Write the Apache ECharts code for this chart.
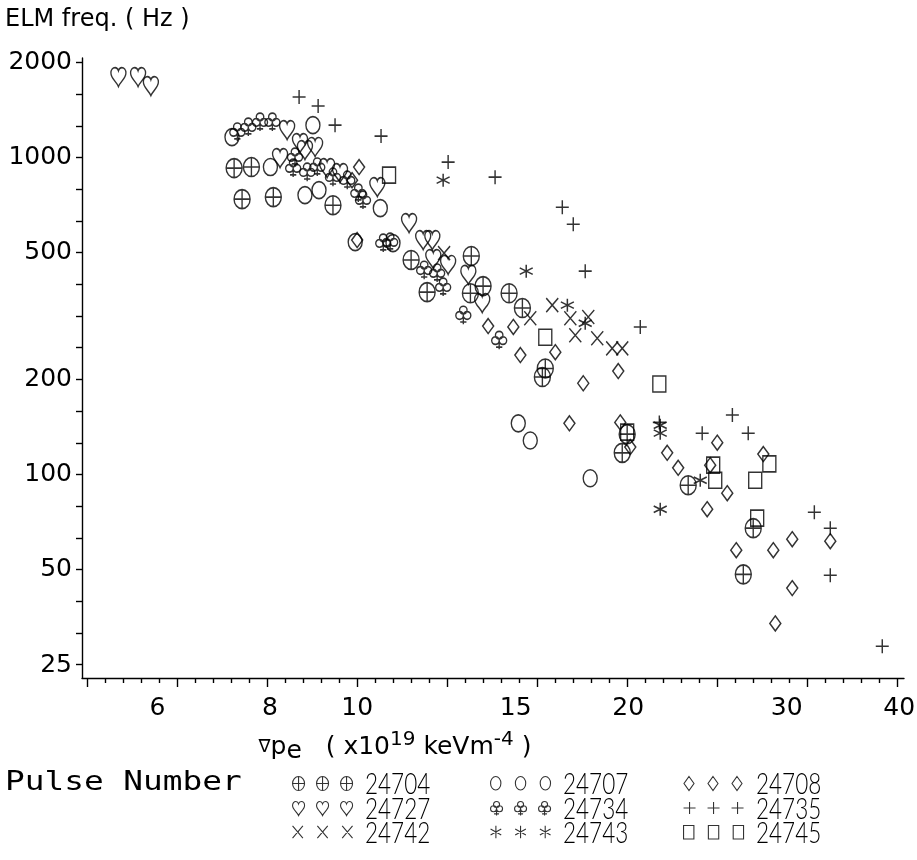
<!DOCTYPE html>
<html><head><meta charset="utf-8">
<script src="https://cdn.jsdelivr.net/npm/echarts@6/dist/echarts.min.js"></script>
<style>html,body{margin:0;padding:0;background:#fff}#c{width:917px;height:860px}</style>
</head><body><div id="c"></div>
<script>
// ---- data (x = grad pe in 1e19 keV m^-4, y = ELM frequency in Hz) ----
const pulseNames = ['24704','24707','24708','24727','24734','24735','24742','24743','24745'];
const s24704 = [[7.30,926],[7.63,933],[7.45,739],[8.07,750],[9.40,707],[11.48,475],[11.96,376],[13.39,489],[13.36,373],[13.80,393],[14.75,373],[15.26,335],[16.18,216],[16.06,203],[19.95,134],[19.70,117],[23.32,92.5],[27.54,67.7],[26.85,48.4]];
const s24707 = [[7.26,1160],[8.01,933],[8.93,1265],[8.75,761],[9.07,789],[10.61,692],[9.95,541],[10.96,537],[15.10,145],[15.57,128],[18.15,97.3]];
const s24708 = [[10.05,933],[9.87,848],[10.0,549],[13.98,294],[14.91,292],[15.18,238],[16.60,243],[17.83,194],[19.50,212],[17.21,145],[19.60,146],[20.11,122],[22.10,117],[22.73,105],[25.12,126],[24.67,107],[25.77,87.3],[24.48,77.7],[28.26,116],[26.37,57.7],[28.99,57.7],[30.43,62.5],[33.54,61.6],[30.43,43.8],[29.14,33.9]];
const s24727 = [[5.43,1794],[5.71,1794],[5.90,1680],[8.36,1220],[8.64,1110],[8.75,1055],[8.98,1079],[8.21,995],[9.26,926],[9.57,893],[10.53,806],[11.42,621],[11.84,549],[12.12,549],[12.15,478],[12.62,458],[13.29,426],[13.77,347]];
const s24734 = [[7.36,1203],[7.57,1247],[7.80,1293],[8.05,1293],[8.53,1003],[8.49,926],[8.80,899],[9.03,933],[9.40,867],[9.75,848],[10.03,772],[10.15,734],[10.69,537],[10.88,541],[11.87,441],[12.27,432],[12.46,390],[13.12,318],[14.38,265]];
const s24735 = [[8.62,1551],[9.05,1453],[9.45,1265],[10.63,1168],[12.62,967],[14.23,867],[16.90,697],[17.38,616],[17.92,438],[20.63,292],[21.66,146],[24.17,135],[26.11,154],[27.19,135],[32.20,76.0],[33.54,67.7],[33.54,48.1],[38.31,28.7]];
const s24742 = [[12.49,499],[15.57,311],[16.47,342],[17.25,311],[18.06,314],[17.47,275],[18.48,269],[19.20,250],[19.70,250]];
const s24743 = [[12.46,848],[15.41,438],[17.12,342],[17.92,300],[21.71,143],[21.71,135],[24.05,95.9],[21.71,77.7]];
const s24745 = [[10.85,880],[16.18,271],[21.66,193],[19.95,136],[24.86,107],[24.99,95.9],[28.70,108],[27.68,95.9],[27.82,72.8]];
const xTickLabels = [6, 8, 10, 15, 20, 30, 40];
const yTickLabels = [25, 50, 100, 200, 500, 1000, 2000];

// ---- marker shapes, drawn in a 12 x 14 box, shifted by o ----
const SH = {
  oplus: o => `M${o},7 A6,7 0 1 1 ${o+12},7 A6,7 0 1 1 ${o},7 Z M${o+6},0 L${o+6},14 M${o},7 L${o+12},7`,
  circle: o => `M${o+1},7 A5,6.5 0 1 1 ${o+11},7 A5,6.5 0 1 1 ${o+1},7 Z`,
  diamond: o => `M${o+6},0 L${o+11},7 L${o+6},14 L${o+1},7 Z`,
  heart: o => `M${o+6},14 C${o+4.5},10.5 ${o},8 ${o},4 C${o},1.6 ${o+1.5},0 ${o+3.3},0 C${o+4.7},0 ${o+5.6},1 ${o+6},2.3 C${o+6.4},1 ${o+7.3},0 ${o+8.7},0 C${o+10.5},0 ${o+12},1.6 ${o+12},4 C${o+12},8 ${o+7.5},10.5 ${o+6},14 Z`,
  club: o => `M${o+3},3 A3,3 0 1 1 ${o+9},3 A3,3 0 1 1 ${o+3},3 Z M${o},7.2 A3,3 0 1 1 ${o+6},7.2 A3,3 0 1 1 ${o},7.2 Z M${o+6},7.2 A3,3 0 1 1 ${o+12},7.2 A3,3 0 1 1 ${o+6},7.2 Z M${o+6},9 L${o+6},14 M${o+3.5},12.3 L${o+8.5},12.3`,
  plus: o => `M${o+6},1 L${o+6},13 M${o},7 L${o+12},7`,
  cross: o => `M${o+1},1 L${o+11},13 M${o+11},1 L${o+1},13`,
  star: o => `M${o+6},1 L${o+6},13 M${o+0.8},4 L${o+11.2},10 M${o+0.8},10 L${o+11.2},4`,
  square: o => `M${o+1},0.5 L${o+11},0.5 L${o+11},13.5 L${o+1},13.5 Z`
};
const seriesDefs = [
  {name: pulseNames[0], data: s24704, shape: 'oplus',   size: [16, 19]},
  {name: pulseNames[1], data: s24707, shape: 'circle',  size: [14, 17]},
  {name: pulseNames[2], data: s24708, shape: 'diamond', size: [11, 15]},
  {name: pulseNames[3], data: s24727, shape: 'heart',   size: [15, 19]},
  {name: pulseNames[4], data: s24734, shape: 'club',    size: [15, 18]},
  {name: pulseNames[5], data: s24735, shape: 'plus',    size: [13, 14]},
  {name: pulseNames[6], data: s24742, shape: 'cross',   size: [12, 14]},
  {name: pulseNames[7], data: s24743, shape: 'star',    size: [13, 13]},
  {name: pulseNames[8], data: s24745, shape: 'square',  size: [13, 16]}
];

const xMajorTicks = [], xMinorTicks = [], yTicks = [];
for (let k = 35; k <= 80; k++) { const v = Math.pow(10, k / 50); (k % 5 === 0 ? xMajorTicks : xMinorTicks).push(v); }
for (let k = 14; k <= 33; k++) yTicks.push(Math.pow(10, k / 10));

const X_MIN = 4.947, X_MAX = 40.5, Y_MIN = 22.8, Y_MAX = 2060;
const FONT = 'DejaVu Sans';
const blackLine = {color: '#000', width: 1.4};
const markStyle = {color: 'rgba(0,0,0,0)', borderColor: '#000', borderWidth: 1.5};

const series = seriesDefs.map(d => ({
  name: d.name, type: 'scatter', data: d.data,
  symbol: 'path://' + SH[d.shape](0), symbolSize: d.size,
  itemStyle: markStyle, emphasis: {disabled: true}, silent: true
}));

// legend: one legend box per pulse (three marks), number text beside it
const legendCols = [292, 490, 683], legendRows = [783, 808, 832];
const legends = [], legendTexts = [];
seriesDefs.forEach((d, i) => {
  const cx = legendCols[i % 3], cy = legendRows[Math.floor(i / 3)];
  legends.push({
    left: cx, top: cy - 7, padding: 0, itemWidth: 60, itemHeight: 14, selectedMode: false,
    itemStyle: {color: 'rgba(0,0,0,0)', borderColor: '#000', borderWidth: 1.1},
    formatter: () => '', textStyle: {fontSize: 1},
    data: [{name: d.name, icon: 'path://' + SH[d.shape](0) + ' ' + SH[d.shape](24) + ' ' + SH[d.shape](48)}]
  });
  legendTexts.push({
    type: 'text', x: cx + 73, y: cy + 1, scaleX: 0.75, silent: true,
    style: {text: d.name, fontFamily: 'Lato', fontWeight: 300, fontSize: 30, fill: '#000', verticalAlign: 'middle', align: 'left'}
  });
});

const chart = echarts.init(document.getElementById('c'), null, {renderer: 'canvas'});
chart.setOption({
  animation: false,
  backgroundColor: '#fff',
  title: {text: 'ELM freq. ( Hz )', left: 0, top: 3, textStyle: {fontFamily: FONT, fontSize: 24, fontWeight: 'normal', color: '#000'}},
  grid: {left: 82, right: 13, top: 58, bottom: 182, containLabel: false, outerBoundsMode: 'none'},
  xAxis: [{
    type: 'log', logBase: 10, min: X_MIN, max: X_MAX, position: 'bottom',
    axisLine: {show: true, lineStyle: blackLine},
    axisTick: {show: true, length: 9, lineStyle: blackLine, customValues: xMajorTicks},
    axisLabel: {show: true, customValues: xTickLabels, color: '#000', fontFamily: FONT, fontSize: 25, margin: 18,
      formatter: v => String(+(+v).toPrecision(3))},
    splitLine: {show: false},
    name: '{n|∇}{p|p}{sub|e}{t|   ( x10}{sup|19}{t| keVm}{sup|-4}{t| )}',
    nameLocation: 'middle', nameGap: 52,
    nameTextStyle: {padding: [0, 196, 0, 0], rich: {
      n: {fontFamily: FONT, fontSize: 18, color: '#000', lineHeight: 34, verticalAlign: 'middle'},
      p: {fontFamily: FONT, fontSize: 25, color: '#000', lineHeight: 34, verticalAlign: 'middle'},
      sub: {fontFamily: FONT, fontSize: 25, color: '#000', lineHeight: 25, verticalAlign: 'bottom'},
      t: {fontFamily: FONT, fontSize: 25, color: '#000', lineHeight: 34, verticalAlign: 'middle'},
      sup: {fontFamily: FONT, fontSize: 20, color: '#000', lineHeight: 20, verticalAlign: 'top'}
    }}
  }, {
    type: 'log', logBase: 10, min: X_MIN, max: X_MAX, position: 'bottom',
    axisLine: {show: false},
    axisTick: {show: true, length: 5, lineStyle: blackLine, customValues: xMinorTicks},
    axisLabel: {show: false}, splitLine: {show: false}
  }],
  yAxis: [{
    type: 'log', logBase: 10, min: Y_MIN, max: Y_MAX,
    axisLine: {show: true, lineStyle: blackLine},
    axisTick: {show: true, length: 6, lineStyle: blackLine, customValues: yTicks},
    axisLabel: {show: true, customValues: yTickLabels, color: '#000', fontFamily: FONT, fontSize: 25, margin: 10,
      formatter: v => String(+(+v).toPrecision(4))},
    splitLine: {show: false}
  }],
  legend: legends,
  graphic: [{
    type: 'text', x: 5, y: 783, scaleX: 1.26, silent: true,
    style: {text: 'Pulse Number', fontFamily: 'DejaVu Sans Mono', fontSize: 26, fill: '#000', verticalAlign: 'middle', align: 'left'}
  }].concat(legendTexts),
  series: series
});
</script></body></html>
